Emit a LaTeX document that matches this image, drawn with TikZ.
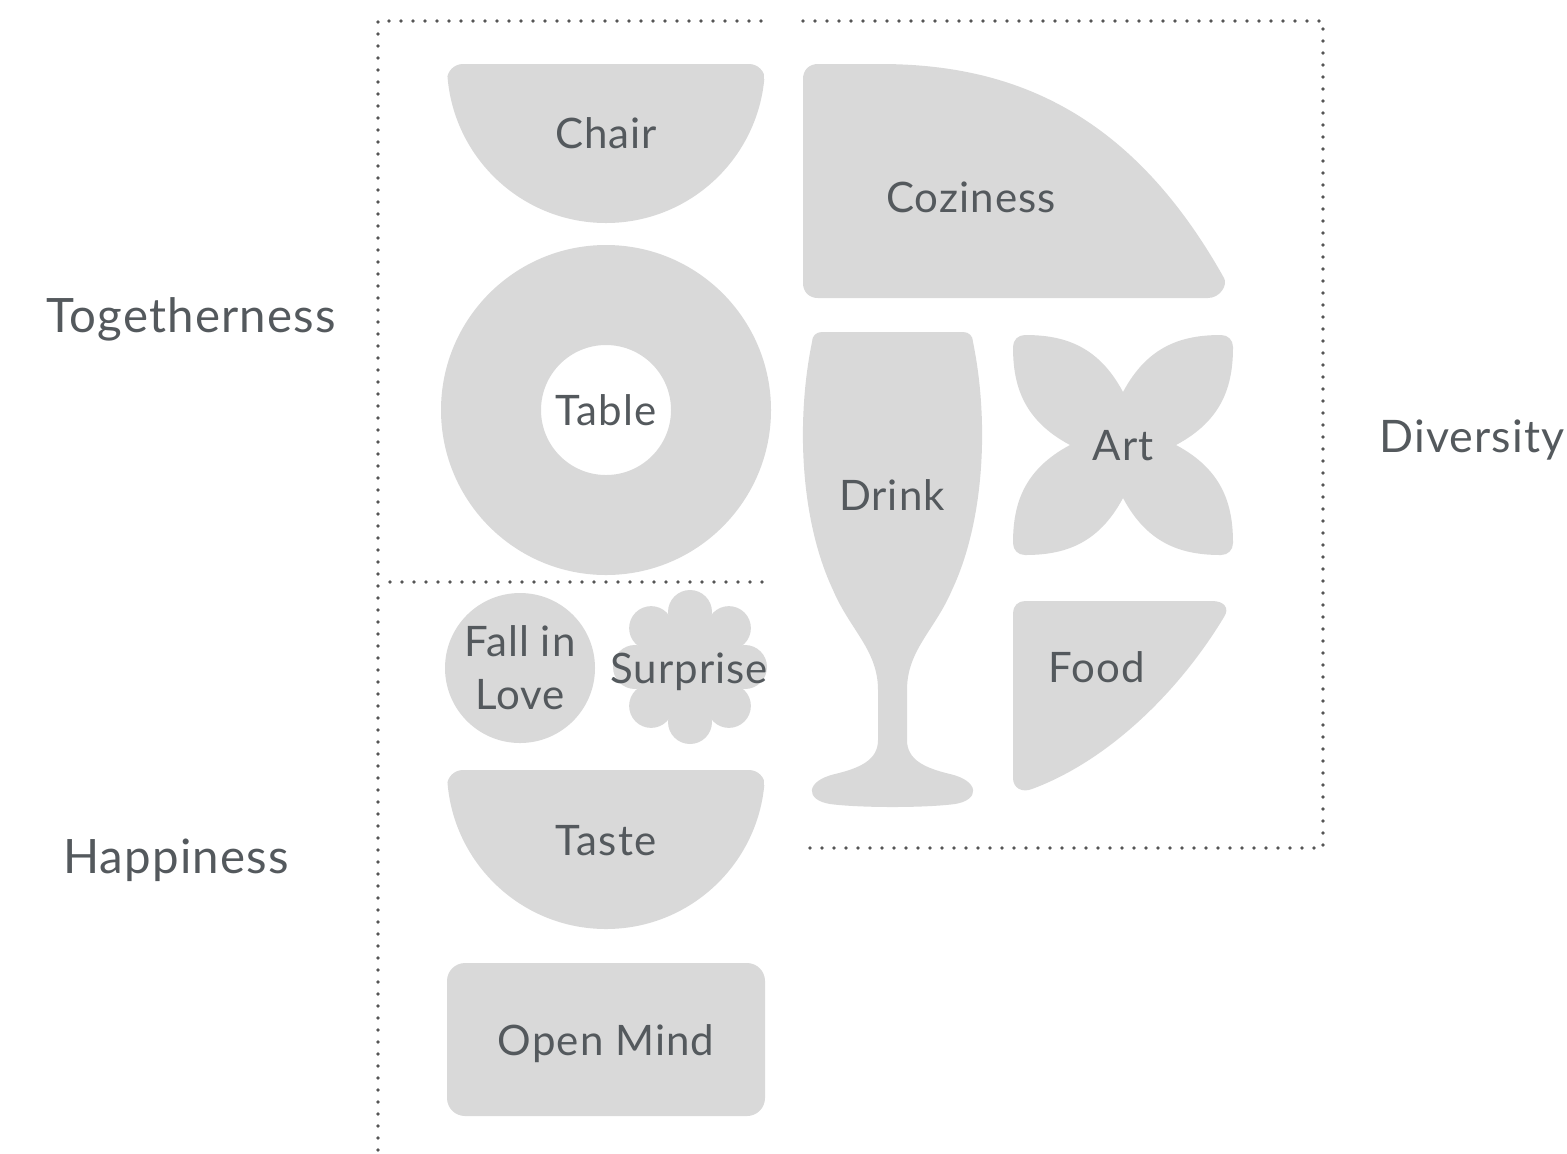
\documentclass[tikz,border=0pt]{standalone}
\usepackage{fontspec}
\setmainfont{Lato}[LetterSpace=2.5]
\definecolor{shapegray}{HTML}{D9D9D9}
\definecolor{labelgray}{HTML}{54595D}
\definecolor{dotgray}{HTML}{555555}
\tikzset{
  blob/.style={fill=shapegray},
  lbl/.style={text=labelgray, font=\fontsize{21}{26.5}\selectfont, inner sep=0pt, anchor=base},
  sidelbl/.style={lbl, font=\fontsize{23.7}{28}\selectfont},
  frameline/.style={draw=dotgray, line width=1.9pt, line cap=round, dash pattern=on 0pt off 6pt},
}

\begin{document}
\begin{tikzpicture}[x=0.5pt,y=-0.5pt]
        \useasboundingbox (0,0) rectangle (1567,1153);

        \draw[frameline] (378,1150) -- (378,21) -- (766,21);
        \draw[frameline] (390,582) -- (766,582);
        \draw[frameline] (803,21) -- (1323,21) -- (1323,848) -- (803,848);

        \begin{scope}
          \clip (606,64) circle (159);
          \fill[blob, rounded corners=8pt] (447,64) rectangle (765,240);
        \end{scope}
        \begin{scope}
          \clip (606,770) circle (159);
          \fill[blob, rounded corners=8pt] (447,770) rectangle (765,946);
        \end{scope}
        \fill[blob] (803,79) .. controls (803,70) and (809,64) .. (818,64) -- (880,64)
          .. controls (1010,64) and (1130,110) .. (1224,278)
          .. controls (1228,285) and (1220,298) .. (1208,298) -- (818,298)
          .. controls (809,298) and (803,292) .. (803,283) -- cycle;
        \fill[blob, even odd rule] (606,410) circle (165) (606,410) circle (65);
        \fill[blob, rounded corners=9pt] (447,963) rectangle (765,1116);
        \fill[blob] (520,668) circle (75);
        \fill[blob] (690,667) circle (50);
        \foreach \a in {0,45,...,315}
          \fill[blob] (690,667) ++(\a:55) circle (22);

        \fill[blob] (822,332) -- (963,332) .. controls (969,332) and (973,336) .. (973,342)
          .. controls (989,420) and (985,520) .. (952,590)
          .. controls (935,630) and (907,650) .. (907,690) -- (907,740)
          .. controls (907,760) and (925,768) .. (950,774)
          .. controls (980,781) and (980,800) .. (955,804)
          .. controls (925,808) and (860,808) .. (830,804)
          .. controls (805,800) and (805,781) .. (835,774)
          .. controls (860,768) and (878,760) .. (878,740) -- (878,690)
          .. controls (878,650) and (850,630) .. (833,590)
          .. controls (800,520) and (796,420) .. (812,342)
          .. controls (812,336) and (816,332) .. (822,332) -- cycle;

        \begin{scope}[shift={(1123,445)}]
          \fill[blob] (0,-53) .. controls (-25,-100) and (-60,-110) .. (-98,-110)
            .. controls (-105,-110) and (-110,-105) .. (-110,-98)
            .. controls (-110,-60) and (-100,-25) .. (-53,0)
            .. controls (-100,25) and (-110,60) .. (-110,98)
            .. controls (-110,105) and (-105,110) .. (-98,110)
            .. controls (-60,110) and (-25,100) .. (0,53)
            .. controls (25,100) and (60,110) .. (98,110)
            .. controls (105,110) and (110,105) .. (110,98)
            .. controls (110,60) and (100,25) .. (53,0)
            .. controls (100,-25) and (110,-60) .. (110,-98)
            .. controls (110,-105) and (105,-110) .. (98,-110)
            .. controls (60,-110) and (25,-100) .. (0,-53) -- cycle;
        \end{scope}

        \fill[blob] (1013,613) .. controls (1013,606) and (1018,601) .. (1025,601) -- (1212,601)
          .. controls (1224,601) and (1230,608) .. (1224,617)
          .. controls (1180,690) and (1110,760) .. (1032,789)
          .. controls (1022,793) and (1013,788) .. (1013,778) -- cycle;

        \node[lbl] (chair) at (606,148) {Chair};
        \node[lbl] (coziness) at (971,212) {Coziness};
        \node[lbl] (table) at (606,425) {Table};
        \node[lbl] (drink) at (892,510) {Drink};
        \node[lbl] (art) at (1123,460) {Art};
        \node[lbl] (food) at (1097,682) {Food};
        \node[lbl, anchor=center, align=center] (fallinlove) at (520,668) {Fall in\\Love};
        \node[lbl] (surprise) at (689,683) {Surprise};
        \node[lbl] (taste) at (606,855) {Taste};
        \node[lbl] (openmind) at (606,1055) {Open Mind};
        \node[sidelbl] (togetherness) at (191,332) {Togetherness};
        \node[sidelbl] (happiness) at (176,873) {Happiness};
        \node[sidelbl, font=\fontsize{22.4}{28}\selectfont] (diversity) at (1472,452) {Diversity};
      \end{tikzpicture}
\end{document}
